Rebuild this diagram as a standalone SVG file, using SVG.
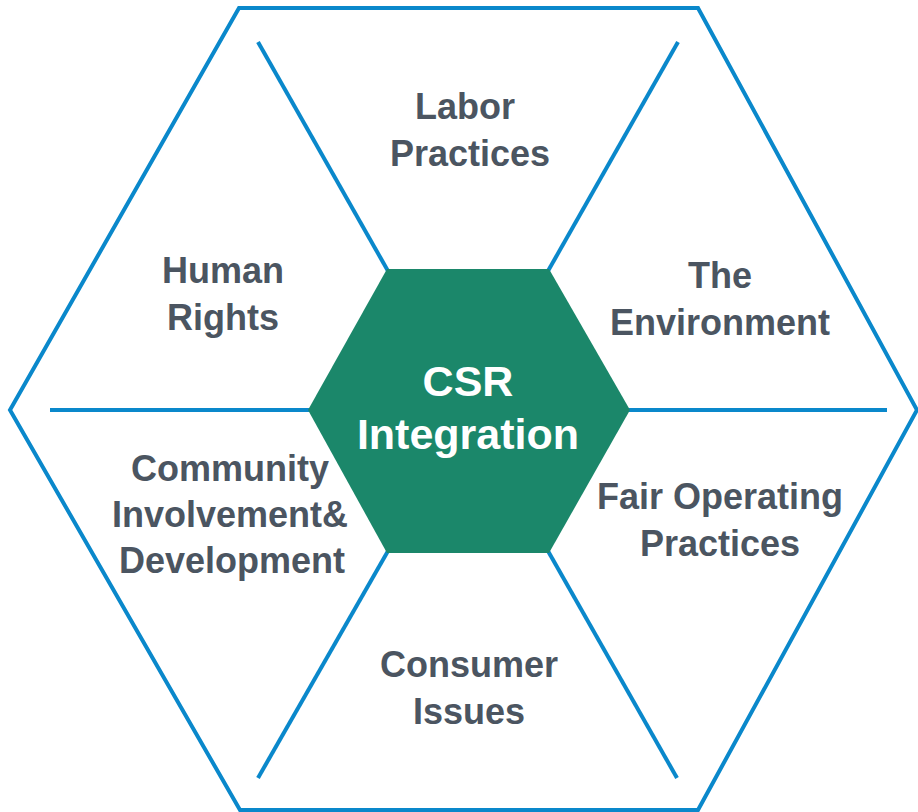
<svg xmlns="http://www.w3.org/2000/svg" width="918" height="812" viewBox="0 0 918 812">
<style>
.ln{stroke:#0A88CB;stroke-width:4;fill:none;stroke-linecap:butt}
.lbl{font-family:"Liberation Sans",Arial,sans-serif;font-weight:bold;font-size:36px;fill:#4B5561;text-anchor:middle}
.ctr{font-family:"Liberation Sans",Arial,sans-serif;font-weight:bold;font-size:43px;fill:#FFFFFF;text-anchor:middle}
</style>
<rect width="918" height="812" fill="#FFFFFF"/>
<g id="outer">
<polygon class="ln" points="239,8 698,8 917,410 698,810 240,810 10,410"/>
</g>
<g id="connectors">
<line class="ln" x1="50" y1="410" x2="310" y2="410"/>
<line class="ln" x1="628" y1="410" x2="887" y2="410"/>
<line class="ln" x1="258" y1="42" x2="388" y2="271"/>
<line class="ln" x1="548" y1="271" x2="678" y2="42"/>
<line class="ln" x1="388" y1="551" x2="258" y2="778"/>
<line class="ln" x1="548" y1="551" x2="677" y2="778"/>
</g>
<g id="center">
<polygon points="387,269 549,269 630,410 549,553 387,553 308,410" fill="#1B876A"/>
<text class="ctr" x="468" y="396">CSR</text>
<text class="ctr" x="468" y="449">Integration</text>
</g>
<g id="labor">
<text class="lbl" x="465" y="119">Labor</text>
<text class="lbl" x="470" y="166">Practices</text>
</g>
<g id="human-rights">
<text class="lbl" x="223" y="283">Human</text>
<text class="lbl" x="223" y="330">Rights</text>
</g>
<g id="environment">
<text class="lbl" x="720" y="288">The</text>
<text class="lbl" x="720" y="335">Environment</text>
</g>
<g id="community">
<text class="lbl" x="230" y="481">Community</text>
<text class="lbl" x="230" y="527">Involvement&amp;</text>
<text class="lbl" x="232" y="573">Development</text>
</g>
<g id="fair-operating">
<text class="lbl" x="720" y="509">Fair Operating</text>
<text class="lbl" x="720" y="556">Practices</text>
</g>
<g id="consumer">
<text class="lbl" x="469" y="677">Consumer</text>
<text class="lbl" x="469" y="724">Issues</text>
</g>
</svg>
